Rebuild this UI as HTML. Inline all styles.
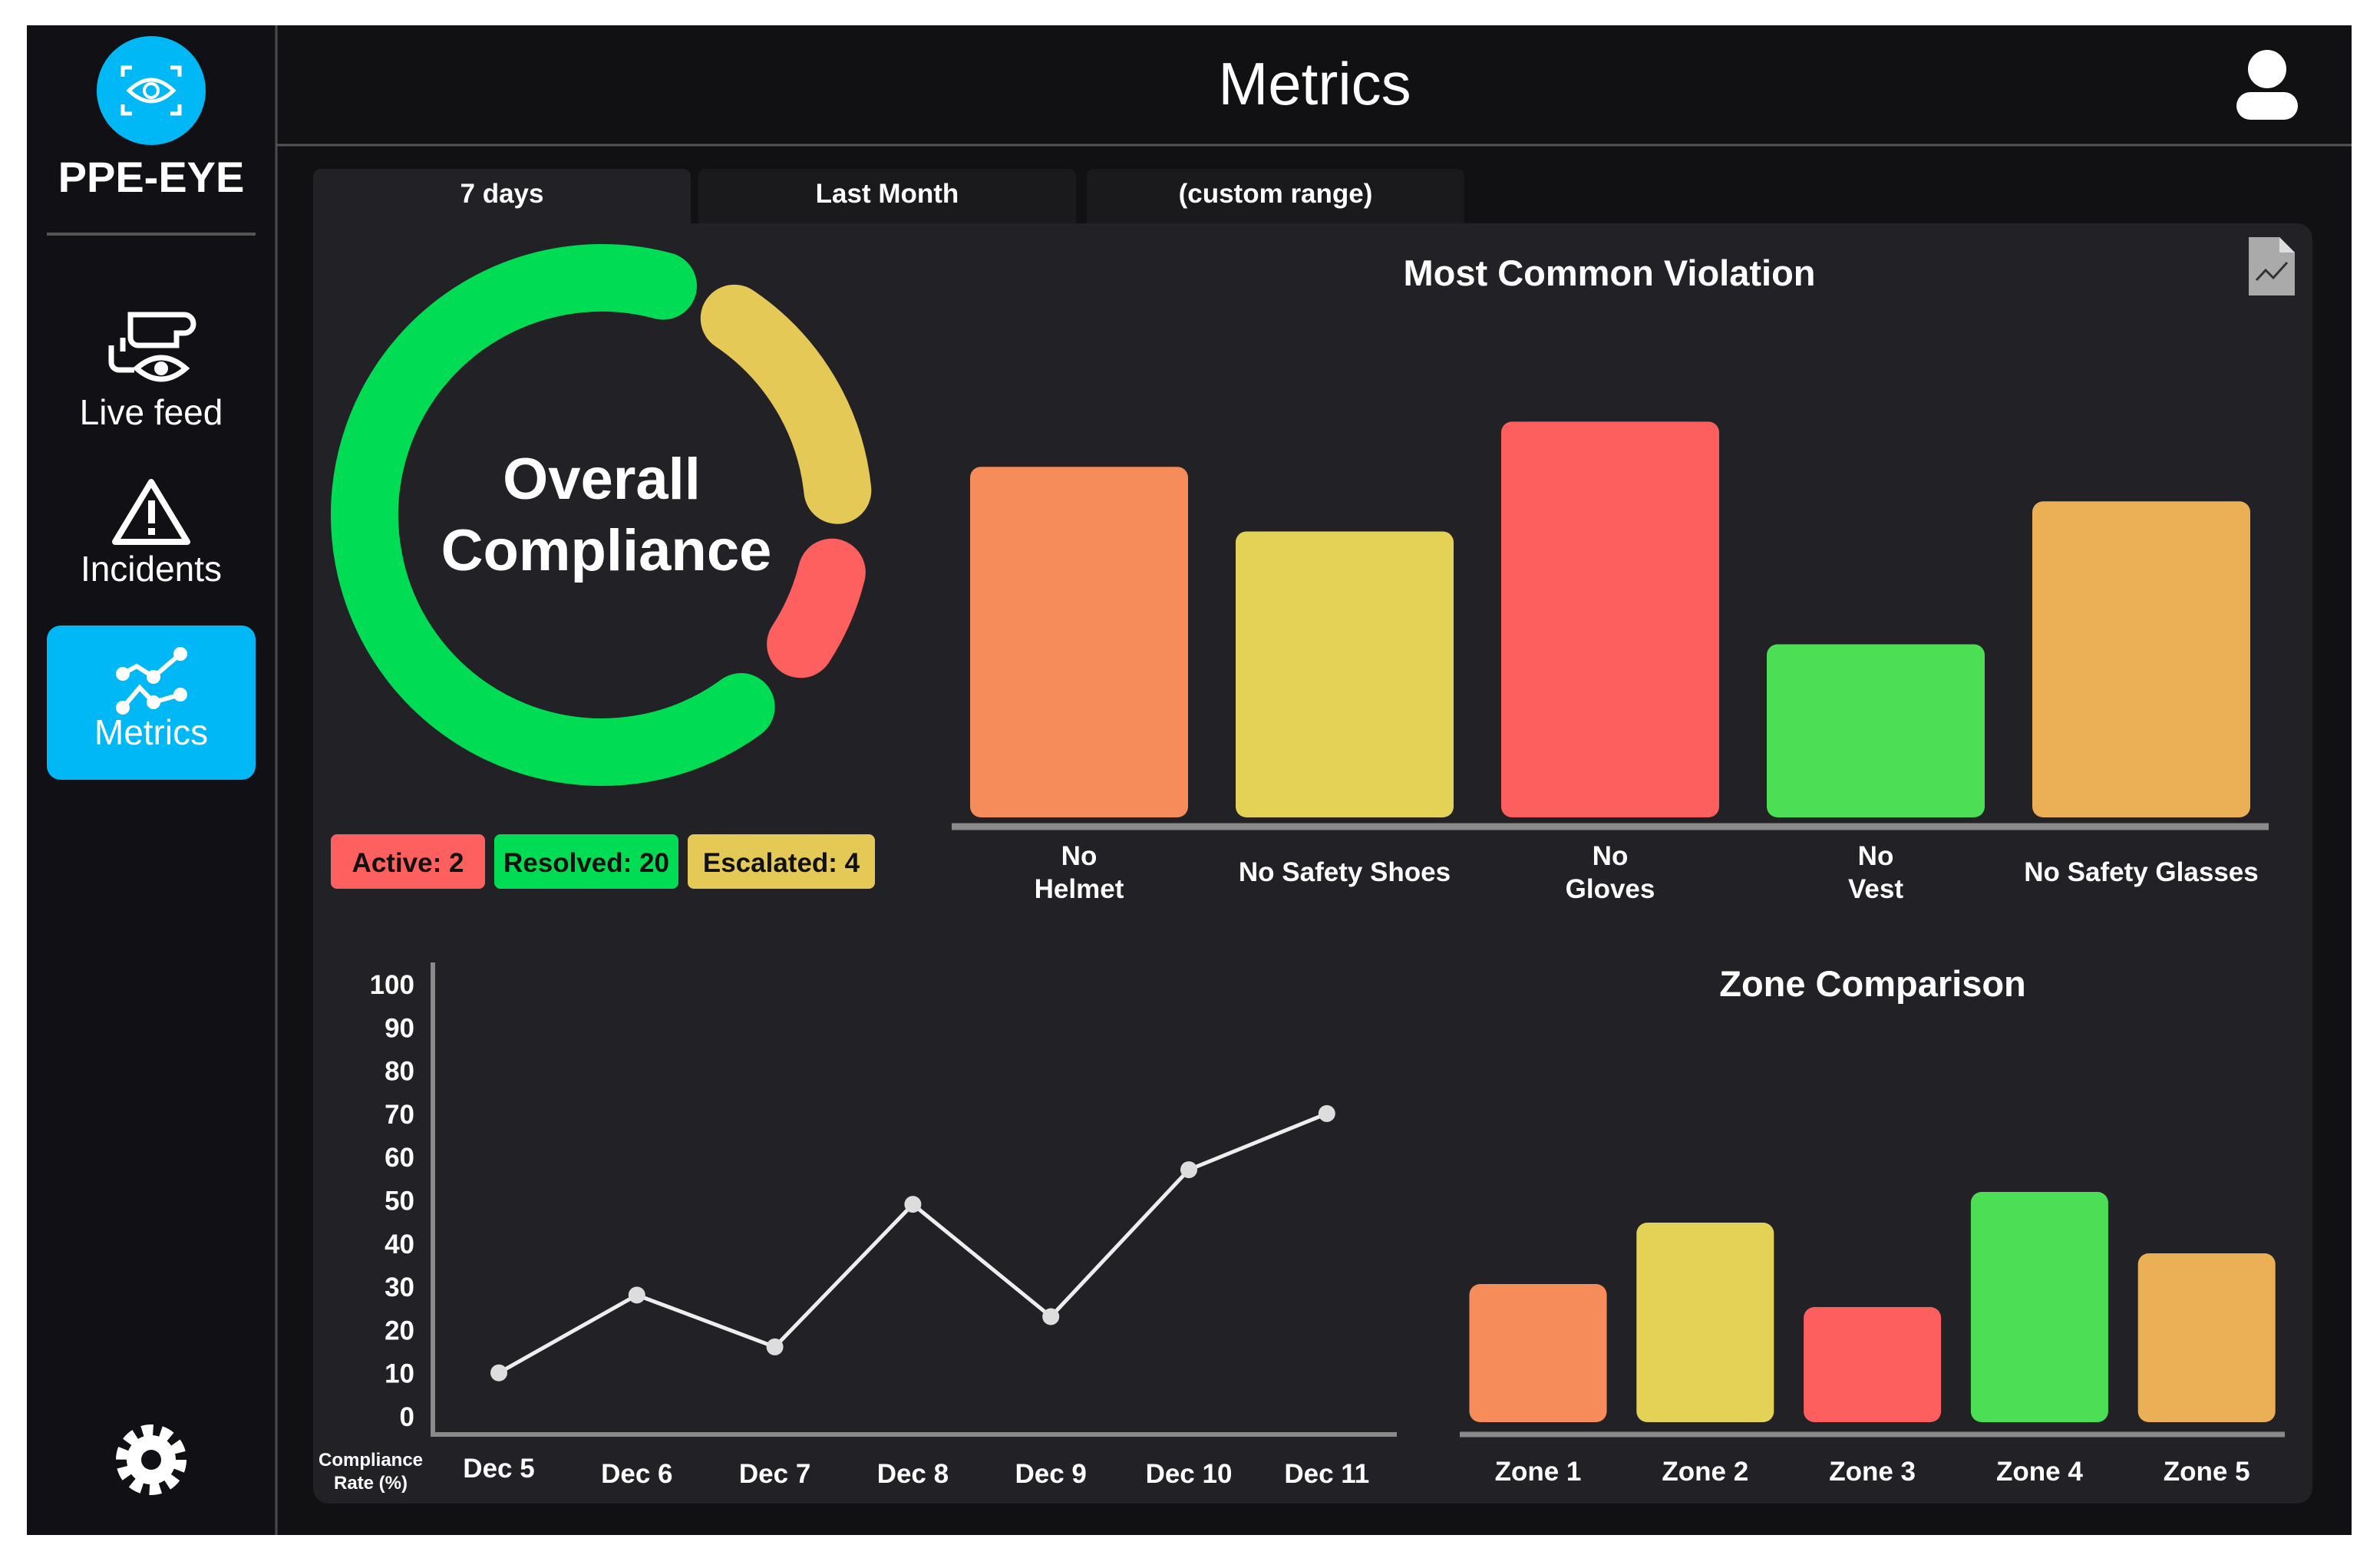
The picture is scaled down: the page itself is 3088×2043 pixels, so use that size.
<!DOCTYPE html>
<html><head><meta charset="utf-8">
<style>
html,body{margin:0;padding:0;background:#fff;}
body{width:3088px;height:2038px;position:relative;overflow:hidden;font-family:"Liberation Sans",sans-serif;}
svg text{font-family:"Liberation Sans",sans-serif;font-weight:bold;}
</style></head>
<body>
<svg id="main" width="3088" height="2038" viewBox="0 0 3088 2038" xmlns="http://www.w3.org/2000/svg">
  <rect x="35" y="33" width="3029" height="1967" fill="#111113"/>
  <!-- sidebar -->
  <g>
    <rect x="35" y="33" width="325" height="1967" fill="#111115"/>
    <line x1="360" y1="33" x2="360" y2="2000" stroke="#4a4a4e" stroke-width="3"/>
    <g>
      <circle cx="197" cy="118" r="71" fill="#00b8f5"/>
      <path d="M163 104 a 6 6 0 0 1 0 0 M160 100 v-12 h12 M222 88 h12 v12 M234 136 v12 h-12 M172 148 h-12 v-12" stroke="#fff" stroke-width="5" fill="none"/>
      <path d="M168 118 Q197 90 226 118 Q197 146 168 118 Z" stroke="#fff" stroke-width="5" fill="none"/>
      <circle cx="197" cy="118" r="9" stroke="#fff" stroke-width="4" fill="none"/>
      <text x="197" y="250" font-size="56" fill="#fff" text-anchor="middle">PPE-EYE</text>
    </g>
    <line x1="61" y1="305" x2="333" y2="305" stroke="#555" stroke-width="4"/>
    <g>
      <g stroke="#fff" stroke-width="7" fill="none">
        <path d="M170 410 h70 a12 12 0 0 1 0 24 h-10 v16 h-50 a10 10 0 0 1 -10 -10 Z"/>
        <path d="M160 440 v18 M145 450 v22 a10 10 0 0 0 10 10 h20"/>
        <path d="M178 480 Q210 452 242 480 Q210 508 178 480 Z"/>
      </g>
      <circle cx="210" cy="480" r="9" fill="#fff"/>
      <text x="197" y="553" font-size="46" fill="#fff" text-anchor="middle" font-weight="normal" style="font-weight:normal">Live feed</text>
    </g>
    <g>
      <path d="M197 628 L244 706 L150 706 Z" stroke="#fff" stroke-width="8" fill="none" stroke-linejoin="round"/>
      <rect x="193" y="652" width="9" height="30" fill="#fff"/>
      <rect x="193" y="688" width="9" height="9" fill="#fff"/>
      <text x="197" y="757" font-size="46" fill="#fff" text-anchor="middle" style="font-weight:normal">Incidents</text>
    </g>
    <g>
      <rect x="61" y="815" width="272" height="201" rx="18" fill="#00b8f5"/>
      <g stroke="#fff" stroke-width="6" fill="#fff">
        <polyline points="160,878 178,868 200,882 235,852" fill="none"/>
        <polyline points="160,922 182,896 200,915 235,905" fill="none"/>
        <circle cx="160" cy="878" r="6"/><circle cx="200" cy="882" r="6"/><circle cx="235" cy="852" r="6"/>
        <circle cx="160" cy="922" r="6"/><circle cx="200" cy="915" r="6"/><circle cx="235" cy="905" r="6"/>
      </g>
      <text x="197" y="970" font-size="46" fill="#fff" text-anchor="middle" style="font-weight:normal">Metrics</text>
    </g>
    <g>
      <circle cx="197" cy="1902" r="38" fill="none" stroke="#fff" stroke-width="16" stroke-dasharray="14 9.9"/>
      <circle cx="197" cy="1902" r="32" fill="#fff"/>
      <circle cx="197" cy="1902" r="13" fill="#111115"/>
    </g>
  </g>
  <!-- header -->
  <g>
    <line x1="360" y1="189" x2="3064" y2="189" stroke="#555" stroke-width="3"/>
    <text x="1713" y="136" font-size="78" fill="#fff" text-anchor="middle" style="font-weight:normal">Metrics</text>
    <g fill="#fff">
      <circle cx="2954" cy="90" r="25"/>
      <rect x="2914" y="120" width="80" height="36" rx="18"/>
    </g>
  </g>
  <!-- tabs -->
  <g>
    <rect x="408" y="220" width="492" height="90" rx="10" fill="#222226"/>
    <text x="654" y="264" font-size="35" fill="#fff" text-anchor="middle">7 days</text>
  </g>
  <g>
    <rect x="910" y="220" width="492" height="90" rx="10" fill="#1a1a1d"/>
    <text x="1156" y="264" font-size="35" fill="#fff" text-anchor="middle">Last Month</text>
  </g>
  <g>
    <rect x="1416" y="220" width="492" height="90" rx="10" fill="#1a1a1d"/>
    <text x="1662" y="264" font-size="35" fill="#fff" text-anchor="middle">(custom range)</text>
  </g>
  <rect x="408" y="291" width="2605" height="1668" rx="20" fill="#222226"/>
  <rect x="408" y="291" width="492" height="40" fill="#222226"/>

  <!-- donut -->
  <g id="donut"></g>
  <text x="784" y="650" font-size="76" fill="#fff" text-anchor="middle">Overall</text>
  <text x="790" y="743" font-size="76" fill="#fff" text-anchor="middle">Compliance</text>
  <g id="badges"></g>

  <!-- violation chart -->
  <text x="2097" y="372" font-size="47" fill="#fff" text-anchor="middle">Most Common Violation</text>
  <g>
    <path d="M2930 309 h40 l20 20 v56 h-60 Z" fill="#aaa"/>
    <path d="M2970 309 v20 h20" fill="#ddd"/>
    <polyline points="2940,365 2952,352 2962,362 2980,342" stroke="#333" stroke-width="3" fill="none"/>
  </g>
  <g id="violationChart"></g>

  <!-- line chart -->
  <g id="lineChart"></g>

  <!-- zone chart -->
  <text x="2440" y="1298" font-size="47" fill="#fff" text-anchor="middle">Zone Comparison</text>
  <g id="zoneChart"></g>
</svg>
<script>
const NS = "http://www.w3.org/2000/svg";
// donut data (angles in degrees, clockwise from top)
const donutSegments = ["resolved", "escalated", "active"];
const donutStart = [144, 34, 104];
const donutEnd = [375, 84, 123];
const donutColors = ["#00dd55", "#e4c957", "#fe5f5f"];
// badges
const badgeLabels = ["Active: 2", "Resolved: 20", "Escalated: 4"];
// violation chart
const violationCats = [["No","Helmet"], ["No Safety Shoes"], ["No","Gloves"], ["No","Vest"], ["No Safety Glasses"]];
const violationValues = [23, 18.7, 26, 11.2, 20.7];
// line chart
const lineDates = ["Dec 5","Dec 6","Dec 7","Dec 8","Dec 9","Dec 10","Dec 11"];
const lineValues = [10, 28, 16, 49, 23, 57, 70];
const lineTicks = [0,10,20,30,40,50,60,70,80,90,100];
// zone chart
const zoneCats = ["Zone 1","Zone 2","Zone 3","Zone 4","Zone 5"];
const zoneValues = [18, 26, 15, 30, 22];

function mk(tag, attrs, parent){ const e=document.createElementNS(NS,tag); for(const k in attrs) e.setAttribute(k,attrs[k]); parent.appendChild(e); return e; }
function polar(cx,cy,r,a){ const t=(a-90)*Math.PI/180; return [cx+r*Math.cos(t), cy+r*Math.sin(t)]; }

// donut
const dg = document.getElementById('donut');
donutSegments.forEach((s,i)=>{
  const cx=784, cy=671, r=309;
  const p0=polar(cx,cy,r,donutStart[i]), p1=polar(cx,cy,r,donutEnd[i]);
  const large=(donutEnd[i]-donutStart[i])>180?1:0;
  const p=mk('path',{d:`M${p0[0]} ${p0[1]} A${r} ${r} 0 ${large} 1 ${p1[0]} ${p1[1]}`,stroke:donutColors[i],'stroke-width':88,fill:'none','stroke-linecap':'round'},dg);
  
  
});

// badges
const bg = document.getElementById('badges');
const badgeX=[431,644,896], badgeW=[201,240,244], badgeC=["#fe5f5f","#00dd55","#e4c957"];
badgeLabels.forEach((t,i)=>{
  const g=mk('g',{},bg);
  
  
  mk('rect',{x:badgeX[i],y:1087,width:badgeW[i],height:71,rx:8,fill:badgeC[i]},g);
  const tx=mk('text',{x:badgeX[i]+badgeW[i]/2,y:1136,'font-size':35,fill:'#111','text-anchor':'middle'},g);
  tx.textContent=t;
});

// violation chart
(function(){
  const g=document.getElementById('violationChart');
  const base=1059, unit=19.6, x0=1406, step=346, w=284;
  const colors=["#f58c5a","#e3d256","#fd5e5e","#4cde55","#ebaf55"];
  const yv=v=>base-v*unit;
  violationValues.forEach((v,i)=>{
    const cx=x0+i*step;
    const r=mk('rect',{x:cx-w/2,y:yv(v),width:w,height:base-yv(v)+6,rx:14,fill:colors[i]},g);
    
    
    const lines=violationCats[i];
    lines.forEach((l,j)=>{
      const yy = lines.length===1?1148:1127+j*43;
      const t=mk('text',{x:cx,y:yy,'font-size':35,fill:'#fff','text-anchor':'middle'},g);
      t.textContent=l;
      
      
    });
  });
  const ax=mk('line',{x1:1240,y1:1077,x2:2956,y2:1077,stroke:'#8a8a8a','stroke-width':9},g);
  
  
})();

// line chart
(function(){
  const g=document.getElementById('lineChart');
  const y0=1845, y100=1282, x0=650, step=179.8;
  const ys=v=>y0+(y100-y0)*v/100, xs=i=>x0+i*step;
  const yax=mk('line',{x1:564,y1:1254,x2:564,y2:1872,stroke:'#8a8a8a','stroke-width':6},g);
  
  
  const xax=mk('line',{x1:561,y1:1869,x2:1820,y2:1869,stroke:'#8a8a8a','stroke-width':6},g);
  
  
  lineTicks.forEach(t=>{
    const tx=mk('text',{x:540,y:ys(t)+13,'font-size':35,fill:'#fff','text-anchor':'end'},g);
    tx.textContent=t;
    
    
  });
  lineDates.forEach((d,i)=>{
    const tx=mk('text',{x:xs(i),y:i===0?1925:1932,'font-size':35,fill:'#fff','text-anchor':'middle'},g);
    tx.textContent=d;
    
    
  });
  const pl=mk('polyline',{points:lineValues.map((v,i)=>xs(i)+','+ys(v)).join(' '),stroke:'#eee','stroke-width':5,fill:'none'},g);
  
  
  lineValues.forEach((v,i)=>{
    const c=mk('circle',{cx:xs(i),cy:ys(v),r:11,fill:'#ddd'},g);
    
    
  });
  const a1=mk('text',{x:483,y:1910,'font-size':24,fill:'#fff','text-anchor':'middle'},g);
  a1.textContent='Compliance';
  
  
  const a2=mk('text',{x:483,y:1940,'font-size':24,fill:'#fff','text-anchor':'middle'},g);
  a2.textContent='Rate (%)';
  
  
})();

// zone chart
(function(){
  const g=document.getElementById('zoneChart');
  const base=1853, unit=10, x0=2004, step=217.8, w=179;
  const colors=["#f58c5a","#e3d256","#fd5e5e","#4cde55","#ebaf55"];
  const yv=v=>base-v*unit;
  zoneValues.forEach((v,i)=>{
    const cx=x0+i*step;
    const r=mk('rect',{x:cx-w/2,y:yv(v),width:w,height:base-yv(v),rx:14,fill:colors[i]},g);
    
    
    const t=mk('text',{x:cx,y:1929,'font-size':35,fill:'#fff','text-anchor':'middle'},g);
    t.textContent=zoneCats[i];
    
    
  });
  const ax=mk('line',{x1:1902,y1:1869,x2:2977,y2:1869,stroke:'#8a8a8a','stroke-width':7},g);
  
  
})();
</script>
</body></html>
